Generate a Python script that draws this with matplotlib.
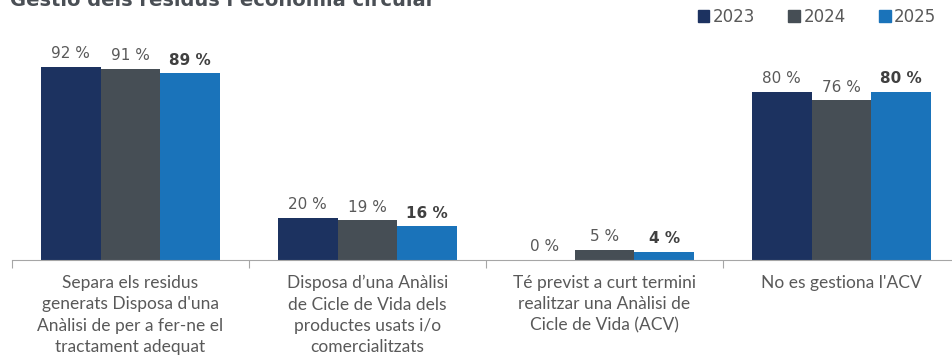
import numpy as np
import matplotlib.pyplot as plt

categories = [
    "Separa els residus\ngenerats Disposa d'una\nAnàlisi de per a fer-ne el\ntractament adequat",
    "Disposa d’una Anàlisi\nde Cicle de Vida dels\nproductes usats i/o\ncomercialitzats",
    "Té previst a curt termini\nrealitzar una Anàlisi de\nCicle de Vida (ACV)",
    "No es gestiona l'ACV",
]
years = ["2023", "2024", "2025"]
v2023 = [92, 20, 0, 80]
v2024 = [91, 19, 5, 76]
v2025 = [89, 16, 4, 80]
colors = ["#1c3260", "#464e55", "#1a73ba"]

fig = plt.figure(figsize=(9.53, 3.56), dpi=100)
ax = fig.add_axes([12 / 953, 96 / 356, 948 / 953, 210 / 356])

x = np.arange(len(categories))
w = 0.252
for i, (vals, c) in enumerate(zip([v2023, v2024, v2025], colors)):
    pos = x + (i - 1) * w
    bars = ax.bar(pos, vals, width=w, color=c, label=years[i])
    for b, v in zip(bars, vals):
        ax.annotate(f"{v} %", (b.get_x() + b.get_width() / 2, v),
                    xytext=(0, 4), textcoords="offset points",
                    ha="center", va="bottom", fontsize=11,
                    color="#404040" if i == 2 else "#595959",
                    fontweight="bold" if i == 2 else "normal")

ax.set_xlim(-0.5, len(categories) - 0.5)
ax.set_ylim(0, 100)
for s in ["top", "right", "left"]:
    ax.spines[s].set_visible(False)
ax.spines["bottom"].set_color("#a6a6a6")
ax.set_yticks([])
ax.set_xticks(np.arange(len(categories) + 1) - 0.5)
ax.tick_params(axis="x", length=6, color="#a6a6a6", labelbottom=False)
for xi, lab in zip(x, categories):
    ax.text(xi, -7, lab, ha="center", va="top", fontsize=12.5, color="#595959",
            family=["Lato", "DejaVu Sans"], linespacing=1.42,
            transform=ax.transData, clip_on=False)

fig.text(10 / 953, 1 - 6 / 356, "Gestió dels residus i economia circular",
         fontsize=14, fontweight="bold", color="#4a4f55", va="baseline")

handles = [plt.Rectangle((0, 0), 1, 1, color=c) for c in colors]
fig.legend(handles, years, loc="upper right", bbox_to_anchor=(0.998, 1.02),
           ncol=3, frameon=False, fontsize=12, labelcolor="#595959",
           handlelength=0.7, handleheight=0.7, handletextpad=0.2,
           columnspacing=2.0)

fig.savefig("out.png", dpi=100)
